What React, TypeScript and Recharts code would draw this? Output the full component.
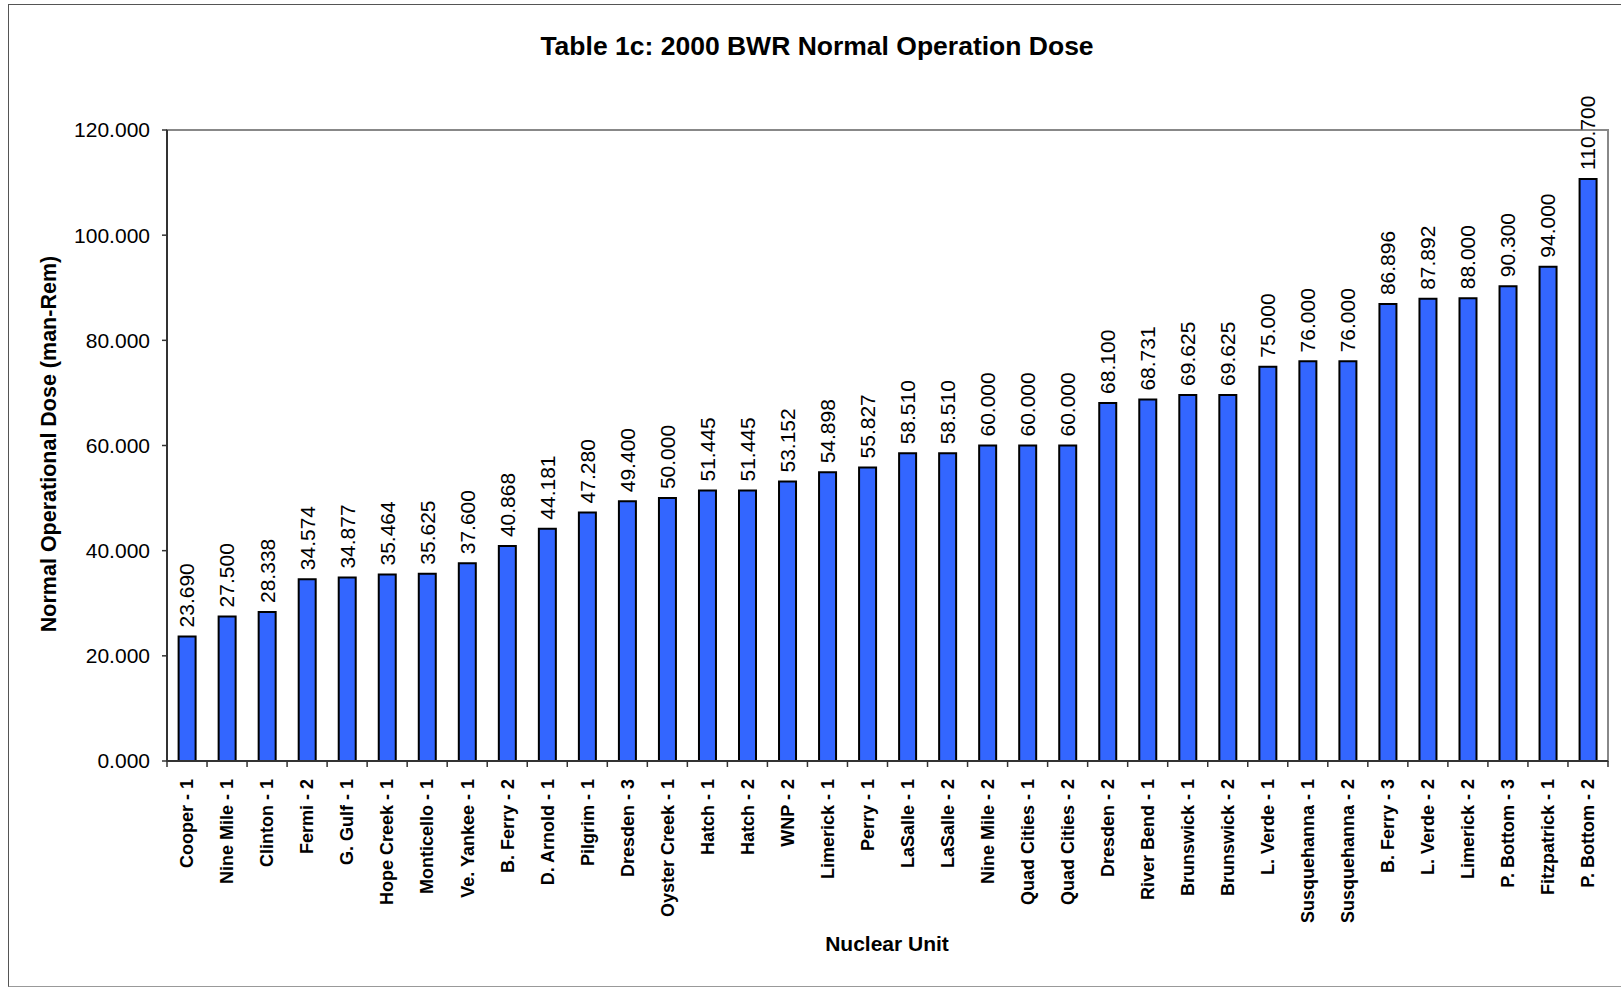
import React from 'react';
import { BarChart, Bar, XAxis, YAxis, LabelList, ReferenceArea } from 'recharts';

const units = [
  'Cooper - 1', 'Nine Mile - 1', 'Clinton - 1', 'Fermi - 2', 'G. Gulf - 1', 'Hope Creek - 1',
  'Monticello - 1', 'Ve. Yankee - 1', 'B. Ferry - 2', 'D. Arnold - 1', 'Pilgrim - 1', 'Dresden - 3',
  'Oyster Creek - 1', 'Hatch - 1', 'Hatch - 2', 'WNP - 2', 'Limerick - 1', 'Perry - 1',
  'LaSalle - 1', 'LaSalle - 2', 'Nine Mile - 2', 'Quad Cities - 1', 'Quad Cities - 2', 'Dresden - 2',
  'River Bend - 1', 'Brunswick - 1', 'Brunswick - 2', 'L. Verde - 1', 'Susquehanna - 1', 'Susquehanna - 2',
  'B. Ferry - 3', 'L. Verde - 2', 'Limerick - 2', 'P. Bottom - 3', 'Fitzpatrick - 1', 'P. Bottom - 2',
];

const doses = [
  23.69, 27.5, 28.338, 34.574, 34.877, 35.464,
  35.625, 37.6, 40.868, 44.181, 47.28, 49.4,
  50.0, 51.445, 51.445, 53.152, 54.898, 55.827,
  58.51, 58.51, 60.0, 60.0, 60.0, 68.1,
  68.731, 69.625, 69.625, 75.0, 76.0, 76.0,
  86.896, 87.892, 88.0, 90.3, 94.0, 110.7,
];

const yTicks = [0, 20, 40, 60, 80, 100, 120];

const data = units.map((unit, i) => ({ unit, dose: doses[i] }));

const FONT = '"Liberation Sans", Arial, sans-serif';

// category label plus Excel-style tick marks on the category boundaries
function UnitTick(props: any) {
  const { x, y, payload, index, visibleTicksCount, width } = props;
  const half = Number(width) / Number(visibleTicksCount) / 2;
  const last = index === visibleTicksCount - 1;
  return (
    <g transform={`translate(${x},${y})`}>
      <line x1={-half} y1={0} x2={-half} y2={6} stroke="#333" strokeWidth={1.5} />
      {last && <line x1={half} y1={0} x2={half} y2={6} stroke="#333" strokeWidth={1.5} />}
      <text
        transform="rotate(-90)"
        x={-18}
        y={0}
        dy="0.35em"
        textAnchor="end"
        fontFamily={FONT}
        fontWeight="bold"
        fontSize={18}
        fill="#000"
      >
        {payload.value}
      </text>
    </g>
  );
}

function DoseLabel(props: any) {
  const x = Number(props.x);
  const y = Number(props.y);
  const w = Number(props.width);
  const cx = x + w / 2;
  const ty = y - 9;
  return (
    <text
      x={cx}
      y={ty}
      transform={`rotate(-90 ${cx} ${ty})`}
      dy="0.35em"
      textAnchor="start"
      fontFamily={FONT}
      fontSize={21}
      fill="#000"
    >
      {Number(props.value).toFixed(3)}
    </text>
  );
}

export default function App() {
  return (
    <div
      style={{
        position: 'absolute',
        left: 0,
        top: 0,
        width: 1621,
        height: 989,
        overflow: 'hidden',
        background: '#fff',
        fontFamily: FONT,
      }}
    >
      <div
        style={{
          position: 'absolute',
          left: 8,
          top: 4,
          width: 1700,
          height: 981,
          borderLeft: '1px solid #555',
          borderTop: '1px solid #555',
          borderBottom: '1px solid #999',
        }}
      />
      <div
        style={{
          position: 'absolute',
          left: 0,
          width: 1634,
          top: 33,
          textAlign: 'center',
          fontWeight: 'bold',
          fontSize: 26.5,
          lineHeight: 1,
          color: '#000',
        }}
      >
        Table 1c: 2000 BWR Normal Operation Dose
      </div>
      <div
        style={{
          position: 'absolute',
          left: 50,
          top: 444,
          transform: 'translate(-50%, -50%) rotate(-90deg)',
          whiteSpace: 'nowrap',
          fontWeight: 'bold',
          fontSize: 21.5,
          lineHeight: 1,
          color: '#000',
        }}
      >
        Normal Operational Dose (man-Rem)
      </div>
      <div
        style={{
          position: 'absolute',
          left: 887,
          top: 943,
          transform: 'translate(-50%, -50%)',
          whiteSpace: 'nowrap',
          fontWeight: 'bold',
          fontSize: 21,
          lineHeight: 1,
          color: '#000',
        }}
      >
        Nuclear Unit
      </div>
      <div style={{ position: 'absolute', left: 0, top: 0 }}>
        <BarChart
          width={1621}
          height={989}
          data={data}
          margin={{ top: 130, right: 13, bottom: 0, left: 0 }}
          barCategoryGap="29%"
        >
          <ReferenceArea y1={0} y2={120} fill="none" stroke="#888" strokeWidth={2} />
          <XAxis
            dataKey="unit"
            interval={0}
            height={228}
            tickSize={0}
            tickMargin={0}
            axisLine={{ stroke: '#333', strokeWidth: 2 }}
            tickLine={false}
            tick={<UnitTick />}
          />
          <YAxis
            width={167}
            domain={[0, 120]}
            ticks={yTicks}
            interval={0}
            tickFormatter={(v: number) => v.toFixed(3)}
            tick={{ fontSize: 21, fill: '#000', fontFamily: FONT }}
            tickSize={5}
            tickMargin={12}
            axisLine={{ stroke: '#333', strokeWidth: 2 }}
            tickLine={{ stroke: '#333', strokeWidth: 1.5 }}
          />
          <Bar dataKey="dose" fill="#3366FF" stroke="#000" strokeWidth={2} isAnimationActive={false}>
            <LabelList dataKey="dose" content={<DoseLabel />} />
          </Bar>
        </BarChart>
      </div>
    </div>
  );
}
